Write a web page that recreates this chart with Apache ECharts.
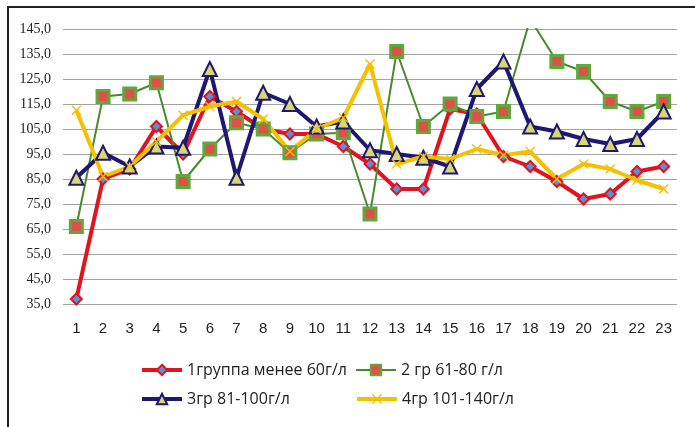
<!DOCTYPE html>
<html>
<head>
<meta charset="utf-8">
<script src="https://cdn.jsdelivr.net/npm/echarts@6/dist/echarts.min.js"></script>
<style>
  html, body { margin: 0; padding: 0; background: #fff; }
  #lineChart { width: 695px; height: 427px; }
</style>
</head>
<body>
<div id="lineChart"></div>
<script>
// данные по точкам 1..23
const categories = ['1','2','3','4','5','6','7','8','9','10','11','12','13','14','15','16','17','18','19','20','21','22','23'];
const seriesNames = ['1группа менее 60г/л', '2 гр 61-80 г/л', '3гр 81-100г/л', '4гр 101-140г/л'];
const group1 = [37, 85, 89, 106, 95, 118, 112, 105, 103, 103, 98, 91, 81, 81, 113, 111, 94, 90, 84, 77, 79, 88, 90];
const group2 = [66, 118, 119, 123.5, 84, 97, 107.5, 105, 95.5, 103, 103.5, 71, 136, 106, 115, 110, 112, 149, 132, 128, 116, 112, 116];
const group3 = [85.5, 95.5, 90, 98, 97.5, 129, 85.5, 119.5, 115, 106, 108, 96.5, 95, 93.5, 90, 121, 132, 106, 104, 101, 99, 101, 112];
const group4 = [112.5, 86, 90, 100, 110.5, 114, 116, 109, 96, 105, 109.5, 131, 91, 94, 93, 97, 94.5, 96, 85, 91, 89, 84.5, 81];
const yMin = 35, yMax = 145, yStep = 10;

let myChart = echarts.init(document.getElementById('lineChart'));

const crossPath = 'path://M0,1L1,0L5,4L9,0L10,1L6,5L10,9L9,10L5,6L1,10L0,9L4,5Z';

function legendAt(name, left, top, lineWidth) {
  return {
    data: [name],
    left: left,
    top: top,
    itemWidth: 40,
    itemHeight: 13,
    itemGap: 0,
    lineStyle: { width: lineWidth },
    textStyle: { fontFamily: 'Open Sans', fontSize: 16, color: '#222' }
  };
}

let option = {
  backgroundColor: '#fff',
  animation: false,
  legend: [
    legendAt(seriesNames[0], 135, 357, 4),
    legendAt(seriesNames[1], 350, 357, 2),
    legendAt(seriesNames[2], 135, 386, 4),
    legendAt(seriesNames[3], 350, 386, 4)
  ],
  grid: { left: 63, right: 18, top: 29, bottom: 123 },
  xAxis: {
    type: 'category',
    data: categories,
    boundaryGap: true,
    axisLine: { show: false },
    axisTick: { show: false },
    axisLabel: { margin: 17, fontFamily: 'Liberation Sans', fontSize: 15, color: '#222' }
  },
  yAxis: {
    type: 'value',
    min: yMin,
    max: yMax,
    interval: yStep,
    axisLine: { show: false },
    axisTick: { show: false },
    splitLine: { lineStyle: { color: '#a3a3a3', width: 1 } },
    axisLabel: {
      margin: 12,
      fontFamily: 'Liberation Serif',
      fontSize: 14,
      color: '#222',
      formatter: v => v.toFixed(1).replace('.', ',')
    }
  },
  graphic: [{
    type: 'rect',
    shape: { x: 8, y: 7, width: 720, height: 460 },
    style: { fill: 'none', stroke: '#222', lineWidth: 2 },
    silent: true
  }],
  series: [{
    name: seriesNames[0],
    type: 'line',
    data: group1,
    symbol: 'diamond',
    symbolSize: 11,
    lineStyle: { color: '#e0141e', width: 4 },
    itemStyle: { color: '#5b8fd6', borderColor: '#e0141e', borderWidth: 2 }
  }, {
    name: seriesNames[1],
    type: 'line',
    data: group2,
    symbol: 'rect',
    symbolSize: 12,
    lineStyle: { color: '#4a8a2a', width: 2 },
    itemStyle: { color: '#e0504a', borderColor: '#5fa83a', borderWidth: 3 }
  }, {
    name: seriesNames[2],
    type: 'line',
    data: group3,
    symbol: 'triangle',
    symbolSize: 14,
    lineStyle: { color: '#1e1872', width: 4 },
    itemStyle: { color: '#d8d870', borderColor: '#1e1872', borderWidth: 2 }
  }, {
    name: seriesNames[3],
    type: 'line',
    data: group4,
    symbol: crossPath,
    symbolSize: 10,
    lineStyle: { color: '#f5c000', width: 4 },
    itemStyle: { color: '#f5c000' }
  }]
};

myChart.setOption(option);
</script>
</body>
</html>
